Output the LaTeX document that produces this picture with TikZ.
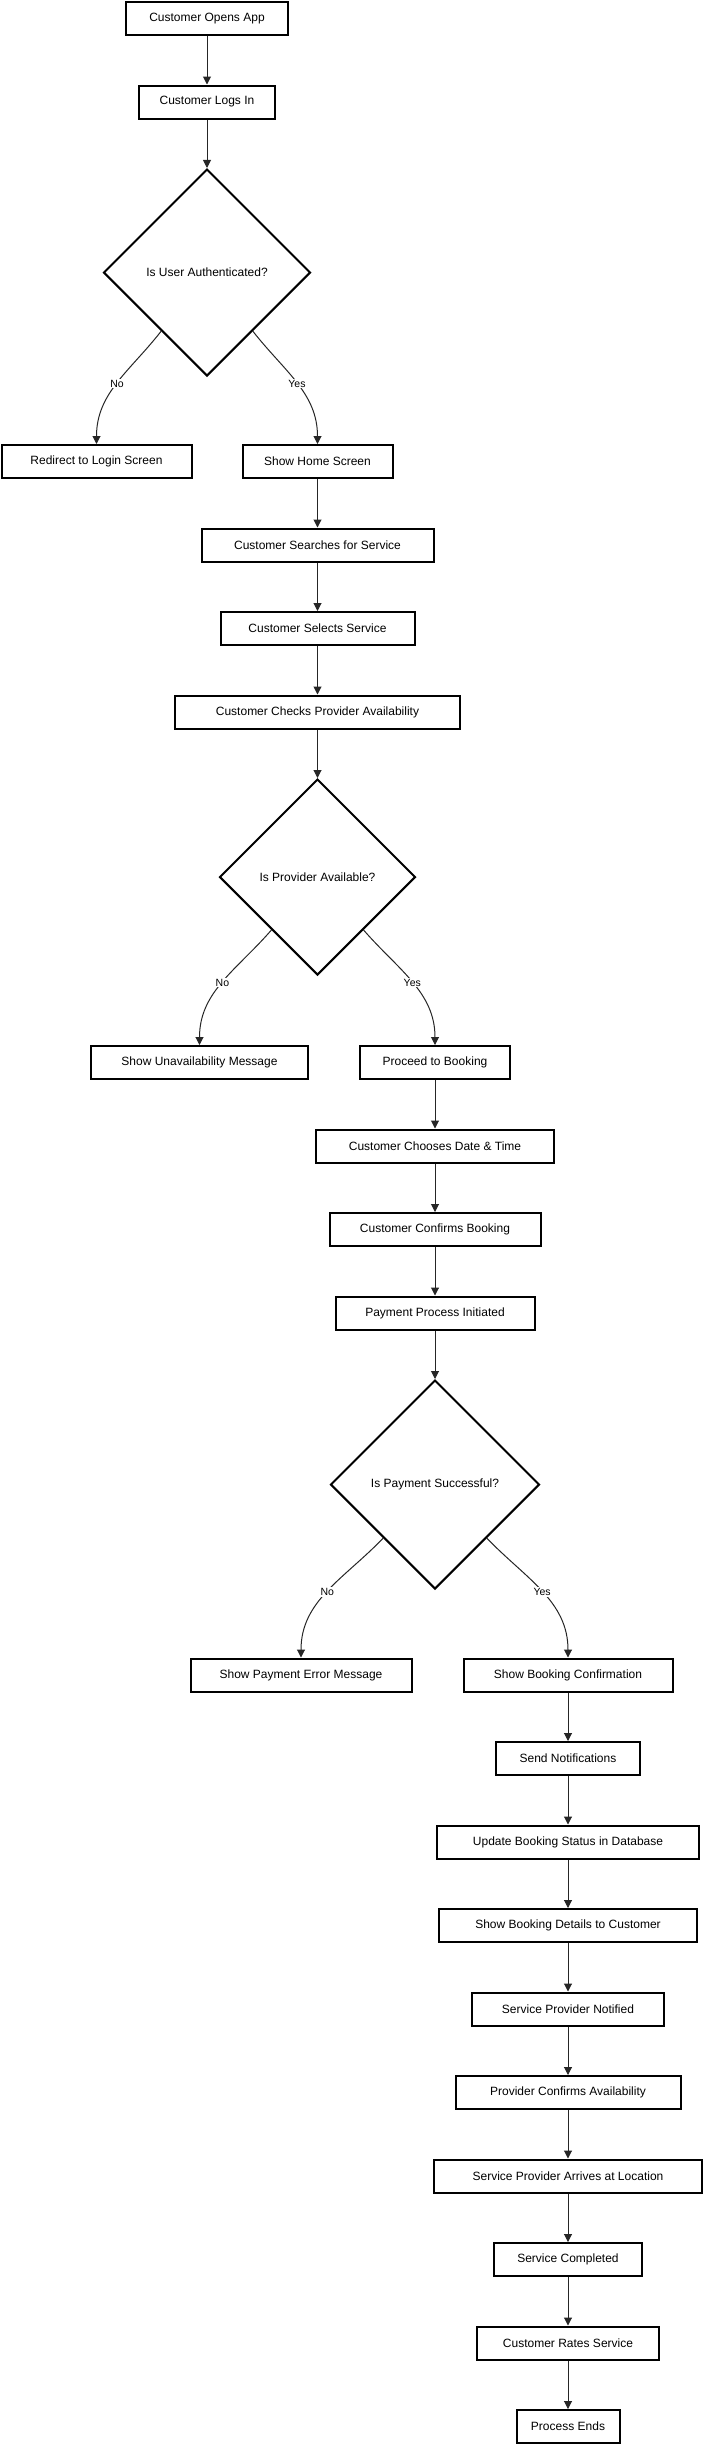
\documentclass[tikz,border=0pt]{standalone}
\usepackage{fontspec}
\setmainfont{Liberation Sans}
\usepackage{xcolor}
\usetikzlibrary{shapes.geometric,arrows.meta,positioning}

\begin{document}
\begin{tikzpicture}[
  node distance=48.5pt,
  box/.style={draw, line width=2pt, align=center, minimum height=33pt, inner sep=0pt, font=\fontsize{12}{14}\selectfont},
  dec/.style={draw, diamond, aspect=1, line width=2pt, inner sep=0pt, align=center, font=\fontsize{12}{14}\selectfont},
  arr/.style={-{Triangle[length=8pt, width=8pt]}, line width=1pt, draw=black!85},
  lbl/.style={fill=white, inner sep=1pt, font=\fontsize{10.5}{12}\selectfont}
]
  \useasboundingbox (0,0) rectangle (704pt,-2444pt);

  \node[box, minimum width=162pt] (open) at (207pt,-18.5pt) {Customer Opens App};
  \node[box, minimum width=136pt, below=of open] (login) {Customer Logs In};
  \node[dec, minimum width=207pt, minimum height=207pt, below=of login] (auth) {Is User Authenticated?};
  \node[box, minimum width=190pt, below=67pt of auth, xshift=-110.5pt] (redirect) {Redirect to Login Screen};
  \node[box, minimum width=150pt, below=67pt of auth, xshift=110.5pt] (home) {Show Home Screen};
  \node[box, minimum width=232pt, below=of home] (search) {Customer Searches for Service};
  \node[box, minimum width=194pt, below=of search] (select) {Customer Selects Service};
  \node[box, minimum width=285pt, below=of select] (check) {Customer Checks Provider Availability};
  \node[dec, minimum width=196pt, minimum height=196pt, below=of check] (avail) {Is Provider Available?};
  \node[box, minimum width=217pt, below=69pt of avail, xshift=-118pt] (unavail) {Show Unavailability Message};
  \node[box, minimum width=150pt, below=69pt of avail, xshift=117.5pt] (proceed) {Proceed to Booking};
  \node[box, minimum width=238pt, below=of proceed] (datetime) {Customer Chooses Date \& Time};
  \node[box, minimum width=211pt, below=of datetime] (confirm) {Customer Confirms Booking};
  \node[box, minimum width=199pt, below=of confirm] (payinit) {Payment Process Initiated};
  \node[dec, minimum width=209pt, minimum height=209pt, below=of payinit] (pay) {Is Payment Successful?};
  \node[box, minimum width=221pt, below=67.5pt of pay, xshift=-134pt] (payerr) {Show Payment Error Message};
  \node[box, minimum width=209pt, below=67.5pt of pay, xshift=133pt] (bookconf) {Show Booking Confirmation};
  \node[box, minimum width=144pt, below=of bookconf] (notify) {Send Notifications};
  \node[box, minimum width=262pt, below=of notify] (updb) {Update Booking Status in Database};
  \node[box, minimum width=258pt, below=of updb] (details) {Show Booking Details to Customer};
  \node[box, minimum width=192pt, below=of details] (provnote) {Service Provider Notified};
  \node[box, minimum width=225pt, below=of provnote] (provok) {Provider Confirms Availability};
  \node[box, minimum width=268pt, below=of provok] (arrive) {Service Provider Arrives at Location};
  \node[box, minimum width=148pt, below=of arrive] (done) {Service Completed};
  \node[box, minimum width=182pt, below=of done] (rate) {Customer Rates Service};
  \node[box, minimum width=103pt, below=of rate] (ends) {Process Ends};

  \draw[arr] (open) -- (login);
  \draw[arr] (login) -- (auth);
  \draw[arr] (auth.-128) to[out=-128, in=90] node[lbl] {No} (redirect);
  \draw[arr] (auth.-52) to[out=-52, in=90] node[lbl] {Yes} (home);
  \draw[arr] (home) -- (search);
  \draw[arr] (search) -- (select);
  \draw[arr] (select) -- (check);
  \draw[arr] (check) -- (avail);
  \draw[arr] (avail.-131) to[out=-131, in=90] node[lbl] {No} (unavail);
  \draw[arr] (avail.-49) to[out=-49, in=90] node[lbl] {Yes} (proceed);
  \draw[arr] (proceed) -- (datetime);
  \draw[arr] (datetime) -- (confirm);
  \draw[arr] (confirm) -- (payinit);
  \draw[arr] (payinit) -- (pay);
  \draw[arr] (pay.-134) to[out=-134, in=90] node[lbl] {No} (payerr);
  \draw[arr] (pay.-46) to[out=-46, in=90] node[lbl] {Yes} (bookconf);
  \draw[arr] (bookconf) -- (notify);
  \draw[arr] (notify) -- (updb);
  \draw[arr] (updb) -- (details);
  \draw[arr] (details) -- (provnote);
  \draw[arr] (provnote) -- (provok);
  \draw[arr] (provok) -- (arrive);
  \draw[arr] (arrive) -- (done);
  \draw[arr] (done) -- (rate);
  \draw[arr] (rate) -- (ends);
\end{tikzpicture}
\end{document}
